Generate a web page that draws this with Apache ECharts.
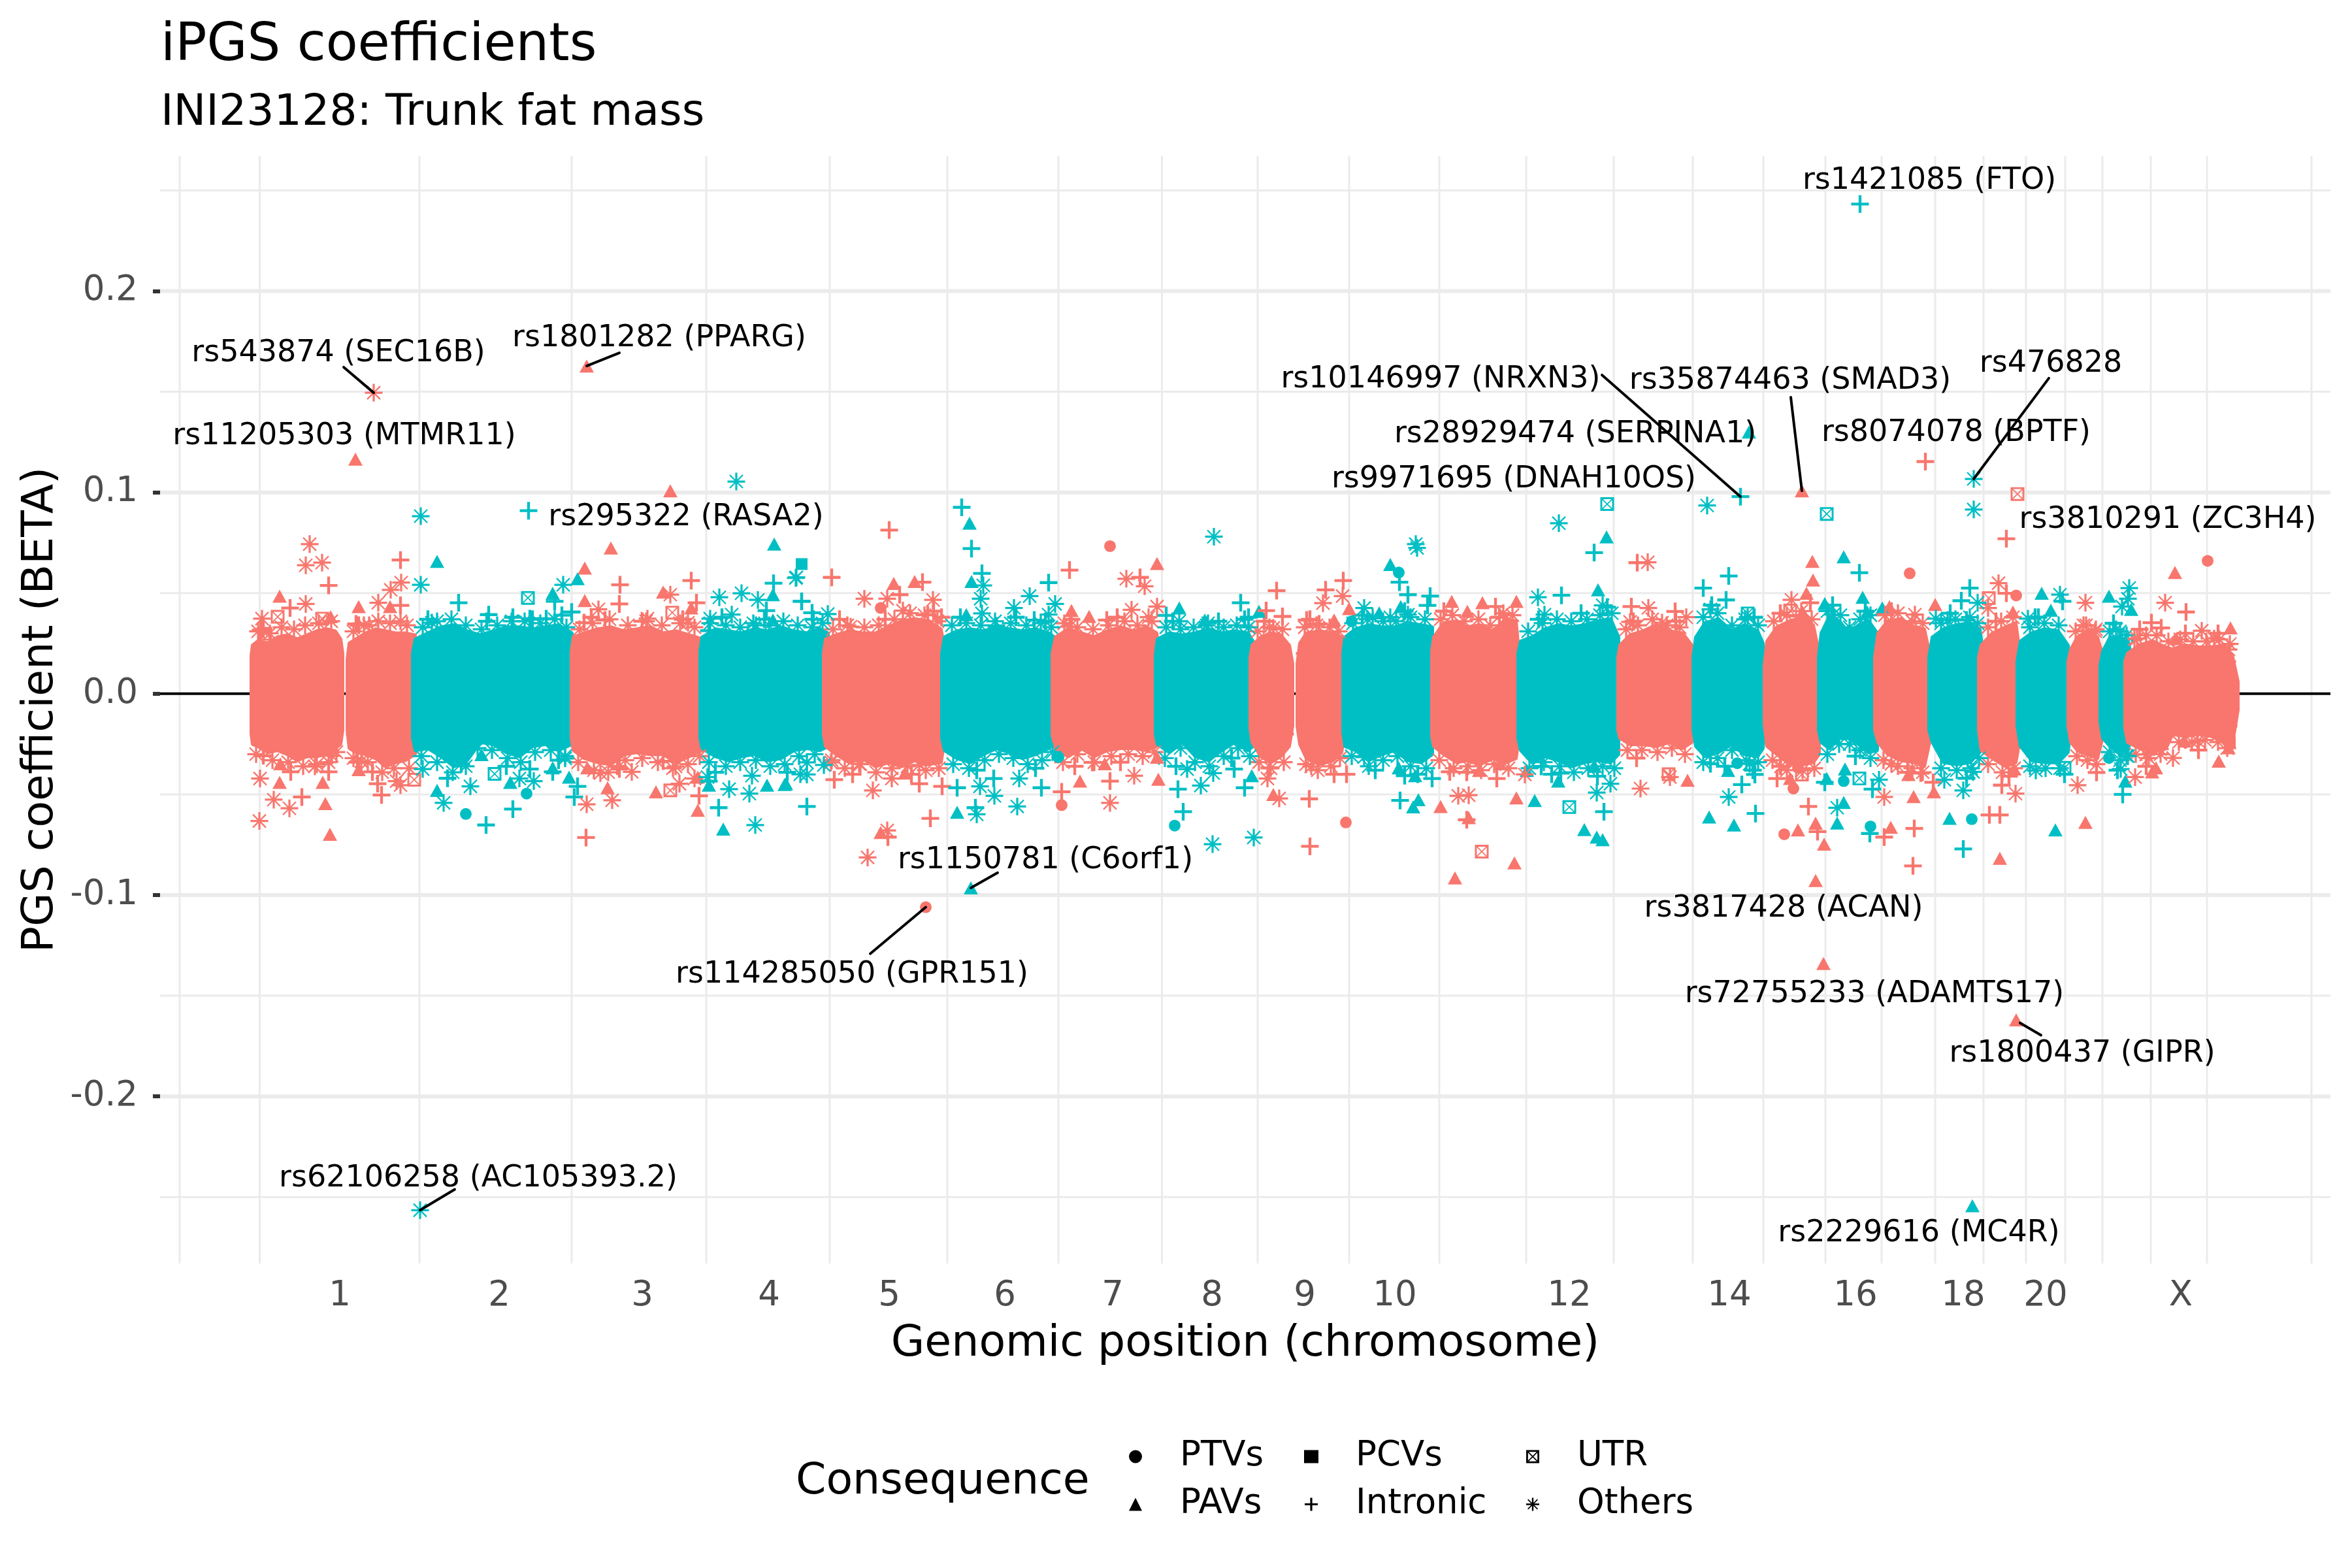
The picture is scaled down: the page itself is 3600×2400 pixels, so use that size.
<!DOCTYPE html>
<html><head><meta charset="utf-8">
<style>html,body{margin:0;padding:0;background:#fff}#c{width:3600px;height:2400px}</style>
<script src="https://cdn.jsdelivr.net/npm/echarts@6/dist/echarts.min.js"></script>
</head><body><div id="c"></div>
<script>
const chromBreaks=[30,152.5,397,630,836,1025,1205,1375,1533.5,1680,1820,1958,2091,2225,2346,2454,2549,2635,2717,2791,2856,2916,2973,3047,3133,3293];
const chromCenters=[275,519,738,932,1116,1293,1458,1610,1752,1890,2157,2402,2595,2760,2886,3093];
const chromLabels=['1','2','3','4','5','6','7','8','9','10','12','14','16','18','20','X'];
const yTicks=[-0.2,-0.1,0,0.1,0.2];
const majorY=[-0.2,-0.1,0.1,0.2];
const minorY=[-0.25,-0.15,-0.05,0.05,0.15,0.25];

// dense cloud outline per chromosome arm: [position, upper edge, lower edge]
const chr1a=[[140,.019,-.020],[142,.024,-.025],[150,.026,-.026],[165,.025,-.029],[180,.028,-.028],[195,.029,-.030],[210,.027,-.033],[225,.029,-.031],[240,.031,-.031],[255,.032,-.030],[268,.031,-.027],[276,.027,-.025],[279,.020,-.018]];
const chr1b=[[287,.017,-.018],[290,.025,-.027],[300,.027,-.029],[315,.030,-.030],[330,.032,-.032],[345,.031,-.036],[360,.030,-.034],[375,.030,-.033],[390,.029,-.030]];
const chr2=[[387,.020,-.022],[391,.027,-.028],[410,.030,-.027],[430,.033,-.031],[450,.034,-.036],[470,.031,-.033],[490,.029,-.024],[510,.031,-.025],[530,.033,-.029],[550,.033,-.031],[570,.032,-.026],[590,.033,-.025],[610,.034,-.028],[630,.030,-.025],[633,.022,-.021]];
const chr3=[[630,.021,-.022],[633,.028,-.028],[650,.030,-.032],[670,.032,-.034],[690,.033,-.035],[710,.031,-.030],[730,.032,-.029],[750,.033,-.030],[770,.030,-.030],[790,.031,-.034],[810,.029,-.031],[830,.027,-.028]];
const chr4=[[827,.021,-.022],[830,.028,-.027],[850,.032,-.031],[870,.031,-.033],[890,.030,-.031],[910,.032,-.030],[930,.031,-.033],[950,.033,-.032],[970,.031,-.028],[990,.030,-.027],[1010,.032,-.028],[1022,.030,-.026]];
const chr5=[[1016,.020,-.020],[1019,.027,-.026],[1035,.029,-.030],[1055,.031,-.034],[1075,.030,-.032],[1095,.030,-.036],[1115,.033,-.034],[1135,.036,-.036],[1155,.037,-.033],[1175,.036,-.035],[1195,.032,-.034],[1200,.022,-.024]];
const chr6=[[1197,.020,-.022],[1201,.028,-.028],[1220,.031,-.032],[1240,.032,-.034],[1260,.031,-.030],[1280,.033,-.027],[1300,.032,-.029],[1320,.031,-.032],[1340,.032,-.030],[1360,.030,-.027],[1373,.027,-.024]];
const chr7=[[1366,.020,-.020],[1371,.028,-.028],[1390,.032,-.031],[1410,.030,-.027],[1430,.028,-.031],[1450,.031,-.028],[1470,.033,-.027],[1490,.031,-.027],[1510,.033,-.028],[1525,.030,-.026],[1529,.021,-.020]];
const chr8=[[1524,.019,-.020],[1527,.027,-.025],[1545,.030,-.029],[1565,.029,-.024],[1585,.030,-.031],[1605,.032,-.033],[1625,.030,-.028],[1645,.031,-.024],[1665,.030,-.028],[1676,.024,-.025]];
const chr9a=[[1669,.018,-.017],[1672,.024,-.024],[1685,.028,-.031],[1700,.030,-.034],[1715,.029,-.031],[1728,.024,-.026],[1733,.015,-.016]];
const chr9b=[[1741,.015,-.016],[1745,.025,-.025],[1755,.030,-.032],[1775,.031,-.035],[1795,.030,-.033],[1808,.028,-.029],[1813,.020,-.020]];
const chr10=[[1811,.020,-.019],[1814,.028,-.026],[1830,.032,-.028],[1850,.034,-.033],[1870,.033,-.030],[1890,.033,-.028],[1910,.035,-.033],[1930,.034,-.034],[1947,.033,-.030]];
const chr11=[[1947,.021,-.021],[1950,.028,-.026],[1965,.035,-.030],[1985,.036,-.034],[2000,.033,-.033],[2020,.034,-.035],[2040,.031,-.032],[2060,.037,-.034],[2075,.036,-.032],[2079,.022,-.023]];
const chr12=[[2079,.020,-.022],[2083,.026,-.028],[2100,.028,-.034],[2120,.032,-.031],[2140,.034,-.033],[2160,.033,-.036],[2180,.034,-.034],[2200,.036,-.033],[2220,.037,-.034],[2232,.028,-.030]];
const chr13=[[2232,.018,-.018],[2235,.024,-.022],[2250,.029,-.025],[2270,.031,-.025],[2290,.034,-.026],[2310,.031,-.024],[2330,.030,-.027],[2344,.024,-.024],[2347,.018,-.019]];
const chr14=[[2347,.018,-.018],[2351,.028,-.026],[2365,.035,-.031],[2385,.037,-.029],[2405,.031,-.025],[2425,.034,-.030],[2445,.031,-.031],[2453,.025,-.027],[2456,.014,-.016]];
const chr15=[[2456,.014,-.015],[2460,.026,-.026],[2475,.033,-.030],[2495,.036,-.035],[2515,.038,-.035],[2530,.034,-.034],[2539,.020,-.030]];
const chr16=[[2539,.018,-.018],[2543,.030,-.024],[2555,.038,-.027],[2570,.036,-.022],[2585,.030,-.022],[2600,.034,-.025],[2615,.036,-.029],[2628,.030,-.028]];
const chr17=[[2625,.018,-.018],[2630,.030,-.024],[2645,.036,-.030],[2665,.037,-.033],[2685,.033,-.034],[2700,.032,-.036],[2708,.020,-.024]];
const chr18=[[2708,.018,-.018],[2713,.028,-.024],[2730,.032,-.034],[2750,.034,-.035],[2770,.035,-.034],[2785,.032,-.029],[2790,.020,-.020]];
const chr19=[[2784,.018,-.018],[2788,.024,-.028],[2805,.030,-.032],[2825,.033,-.036],[2840,.035,-.034],[2845,.023,-.025]];
const chr20=[[2843,.016,-.016],[2848,.026,-.026],[2865,.030,-.033],[2885,.032,-.034],[2905,.031,-.034],[2920,.024,-.029],[2924,.016,-.016]];
const chr21=[[2921,.016,-.016],[2925,.022,-.024],[2935,.028,-.028],[2950,.031,-.030],[2965,.028,-.032],[2974,.018,-.020]];
const chr22=[[2970,.014,-.014],[2974,.021,-.022],[2985,.028,-.026],[3000,.028,-.030],[3012,.026,-.028],[3017,.018,-.020]];
const chrX=[[3008,.016,-.017],[3012,.020,-.024],[3030,.024,-.027],[3050,.026,-.029],[3070,.023,-.027],[3080,.022,-.020],[3100,.024,-.021],[3120,.023,-.020],[3140,.023,-.021],[3160,.024,-.024],[3172,.018,-.024],[3180,.006,-.008]];
const cloudOutlines=[chr1a,chr1b,chr2,chr3,chr4,chr5,chr6,chr7,chr8,chr9a,chr9b,chr10,chr11,chr12,chr13,chr14,chr15,chr16,chr17,chr18,chr19,chr20,chr21,chr22,chrX];
const cloudChrom=[1,1,2,3,4,5,6,7,8,9,9,10,11,12,13,14,15,16,17,18,19,20,21,22,23];

// read-off variants [position, BETA]
const salmonTri=[[183,.0485],[690,.0724],[650,.0624],[781,.1008],[770,.0505],[304,.0433],[352,.0433],[261,.0382],[650,.0463],[813,.0426],[653,.1628],[299,.1165],
[184,-.0348],[183,-.044],[249,-.044],[253,-.0546],[260,-.0698],[304,-.0377],[685,-.0467],[759,-.0487],[823,-.0579],[654,-.0368],[823,-.0414],
[1123,.0548],[1155,.0558],[1526,.0647],[1395,.0413],[1422,.0384],[1820,.0423],[1797,.0366],[1103,-.0689],[1140,-.0394],[1408,-.0434],[1528,-.0425],[1704,-.05],[1446,-.0348],[1526,-.0315],
[1977,.0459],[2024,.0452],[2001,.0409],[2076,.0459],[2529,.0657],[2530,.0565],[2520,.0499],[2513,.1008],[2514,.0406],[2647,.0433],[2717,.0443],[2836,.0406],
[1960,-.056],[2003,-.0615],[2076,-.0517],[2073,-.084],[2019,-.0381],[2051,-.0348],[2338,-.043],[2495,-.0421],[2684,-.0511],[2676,-.0401],[2715,-.0487],[2507,-.0676],[2534,-.0643],[2547,-.0747],[2649,-.0663],[2838,-.0374],[1982,-.0915],[2947,-.0639],[2816,-.0817],[2534,-.0928],[2546,-.134],[2841,-.162],
[3084,.0602],[3169,.0327],[3086,.0274],[3049,-.0388],[3055,-.0368],[3099,-.0235],[3151,-.0335],[3166,-.0268]];
const salmonStar=[[229,.0743],[223,.0638],[248,.0651],[223,.0446],[369,.0552],[353,.0516],[334,.0452],[156,.0373],[320,.034],[368,.036],[671,.0419],[781,.0492],[746,.0373],[808,.0353],[327,.1495],
[153,-.0421],[174,-.0526],[198,-.0569],[152,-.0632],[237,-.0361],[308,-.0335],[362,-.0434],[368,-.0454],[653,-.0549],[692,-.0529],[674,-.0394],[722,-.0388],[789,-.0361],[795,-.0447],[818,-.0421],[263,-.0308],
[1078,.0472],[1113,.0472],[1183,.0466],[1479,.0571],[1507,.0534],[1487,.0417],[1526,.0433],[1513,.038],[1810,.0485],[1780,.045],[1137,.0413],[1057,.0333],[1392,.0333],[1704,.0327],
[1027,-.0341],[1091,-.048],[1113,-.0679],[1120,-.0421],[1454,-.0542],[1491,-.0407],[1713,-.052],[1695,-.0421],[1762,-.0361],[1083,-.0813],[1070,-.0348],[1162,-.0354],
[2277,.0653],[2278,.0426],[2250,.0357],[2336,.038],[2497,.0466],[2686,.0393],[2814,.0549],[2798,.0426],[2947,.0452],[2944,.034],[2299,.0353],
[1987,-.0507],[2003,-.0504],[2266,-.0471],[2311,-.0414],[2639,-.0513],[2935,-.0454],[2840,-.0496],[2481,-.0361],[2089,-.0401],[2650,-.0348],
[2963,.032],[3069,.0452],[3125,.0313],[3168,.0247],[3144,.0274],[3081,-.0319],[3040,-.0302],[3023,-.0414],[3119,-.0235],[3061,-.0275],[3026,.0274]];
const salmonPlus=[[368,.0664],[258,.0538],[199,.0426],[300,.0347],[368,.0439],[704,.0541],[703,.0446],[813,.0562],[821,.0452],[649,.0353],[681,.0366],[154,.0316],
[158,-.0308],[200,-.0388],[217,-.0513],[258,-.0388],[333,-.0447],[339,-.0503],[325,-.0388],[652,-.0714],[825,-.0507],[703,-.0374],[770,-.0335],
[1116,.0813],[1028,.0578],[1167,.0554],[1132,.0492],[1175,.0393],[1196,.038],[1392,.0614],[1500,.0578],[1449,.0366],[1709,.0512],[1784,.0516],[1811,.0562],[1693,.0413],[1718,.0384],[1755,.0366],[1774,.0347],
[1032,-.0427],[1179,-.0619],[1162,-.0447],[1197,-.046],[1380,-.0487],[1114,-.0712],[1454,-.0434],[1427,-.0341],[1759,-.0522],[1760,-.0758],[1797,-.04],[1816,-.04],[1698,-.0368],
[2044,.0433],[2252,.0433],[2319,.0409],[2526,.0452],[2702,.1153],[2826,.077],[2826,.0499],[2261,.0651],[2641,.0393],
[2000,-.0626],[2046,-.0421],[1974,-.0388],[2523,-.056],[2537,-.0685],[2639,-.0712],[2685,-.0669],[2683,-.0855],[2714,-.044],[2475,-.0421],[2695,-.0394],[2819,-.0454],[2800,-.0602],[2816,-.0602],
[3101,.0406],[3048,.0353],[3063,.0327],[2964,-.0391]];
const salmonCircle=[[1103,.0426],[1454,.0733],[1380,-.0553],[1815,-.0639],[1172,-.106],[2678,.0598],[2841,.0488],[2500,-.0471],[2486,-.0698],[2507,-.0368],[3134,.066]];
const salmonSquare=[[3168,-.0242]];
const salmonUtr=[[180,.0382],[248,.0373],[161,.0298],[784,.0403],[389,-.0427],[781,-.048],[2495,.0413],[2799,.0475],[2843,.0992],[2023,-.0784],[2513,-.0401],[2309,-.04]];
const tealStar=[[399,.0882],[399,.0541],[617,.0541],[882,.1054],[856,.0479],[890,.0499],[915,.0466],[875,.0393],[973,.0575],[842,.0373],[912,.034],[416,.0353],[398,-.2565],
[402,-.0374],[475,-.046],[434,-.0542],[572,-.0434],[550,-.0421],[838,-.0414],[871,-.0474],[902,-.0496],[911,-.0652],[906,-.0407],[620,-.0321],[980,-.04],
[974,.0578],[1022,.0396],[1260,.0538],[1256,.0472],[1258,.0399],[1331,.0485],[1307,.0426],[1370,.0446],[1360,.0393],[1613,.078],[1922,.0743],[1924,.0724],[1560,.036],[1843,.0426],[1856,.038],[1883,.038],[1910,.0393],[1602,.034],
[990,-.0401],[990,-.0341],[1016,-.0354],[1312,-.056],[1277,-.0507],[1250,-.0599],[1255,-.046],[1315,-.0421],[1593,-.0456],[1611,-.0747],[1674,-.0714],[1572,-.0374],[1612,-.0394],[1843,-.0315],
[2141,.0847],[2368,.0935],[2776,.1067],[2776,.0915],[2109,.0479],[2119,.0393],[2208,.0439],[2373,.0419],[2561,.0393],[2718,.0373],[2736,.0366],[2782,.0452],[2908,.0492],[2859,.0373],[2430,.038],
[2401,-.0513],[2199,-.0491],[2220,-.0447],[2567,-.0566],[2731,-.0427],[2760,-.048],[2775,-.0388],[2631,-.0427],[2433,-.0348],[2871,-.0381],
[3014,.0525],[3012,.0472],[3003,.0433],[2994,.032],[3001,-.0374],[3010,-.0308]];
const tealPlus=[[564,.0909],[457,.0452],[503,.0393],[540,.038],[630,.0406],[604,.0459],[566,.0373],[591,.0373],[939,.0549],[928,.0413],[982,.0459],[840,.0313],
[540,-.0573],[499,-.0652],[634,-.0513],[639,-.046],[855,-.0566],[601,-.0388],[990,-.056],[461,-.0348],[840,-.0434],[566,-.0374],
[1227,.0926],[1242,.0721],[1258,.0598],[1360,.0552],[982,.0459],[998,.0402],[1540,.0389],[1654,.0452],[1897,.0554],[1910,.0492],[1944,.0485],[1940,.0439],[1666,.038],[1338,.0366],[1280,.0337],
[1248,-.0566],[1220,-.0467],[1349,-.0467],[1276,-.0421],[1558,-.0474],[1566,-.0586],[1660,-.0467],[1644,-.0374],[1898,-.053],[1905,-.0407],[1947,-.0421],
[2195,.0701],[2419,.0979],[2401,.0585],[2362,.0525],[2397,.0466],[2601,.0601],[2770,.0525],[2757,.0462],[2145,.0489],[2870,.038],[2912,.0459],[2765,.0366],[2602,.2432],
[2210,-.0586],[2442,-.0595],[2421,-.0451],[2441,-.0401],[2373,-.0348],[2621,-.0474],[2617,-.0694],[2760,-.0771],[2548,-.044],[2144,-.0394],[2114,-.0361],[3004,-.05]];
const tealTri=[[424,.0657],[639,.0571],[601,.0499],[940,.0743],[938,.0492],[938,.0366],
[536,-.044],[626,-.0414],[601,-.0368],[424,-.048],[862,-.0672],[840,-.0454],[929,-.0454],[956,-.0451],[492,-.0302],
[1239,.0847],[1242,.0558],[1234,.0393],[1560,.0426],[1682,.0409],[1883,.0642],[1899,.0433],[1599,.0366],[1866,.0402],
[1220,-.0589],[1671,-.0407],[1926,-.0526],[1918,-.0562],[1921,-.0407],[1896,-.0368],[958,-.0447],[1241,-.0964],
[2214,.0779],[2577,.068],[2606,.0479],[2548,.0448],[2880,.0499],[2894,.0415],[2201,.0516],[2613,.0406],[2636,.0426],[2432,.13],
[2104,-.053],[2180,-.0675],[2199,-.0712],[2208,-.0725],[2371,-.0612],[2409,-.0652],[2400,-.0381],[2577,-.054],[2567,-.0642],[2739,-.0619],[2901,-.0676],[2092,-.0381],[2140,-.0434],[2579,-.0374],[2551,-.0421],[2196,-.0361],[2774,-.2543],
[2983,.0485],[3017,.0419],[3008,-.0434]];
const tealCircle=[[468,-.0597],[561,-.0496],[1896,.0602],[1824,.036],[1553,-.0655],[1375,-.0315],[2414,-.0345],[2577,-.0434],[2618,-.0659],[2773,-.0623],[2983,-.0319]];
const tealSquare=[[982,.0644]];
const tealUtr=[[563,.0476],[512,-.0398],[2215,.0942],[2551,.0893],[2157,-.0563],[2601,-.0421],[2430,.0399],[2915,-.0368]];

// markers estimated along the rim of the dense clouds
const salmonRimStar=[[150,.031],[168,.030],[186,.033],[205,.032],[222,.034],[243,.035],[262,.036],[147,-.030],[172,-.033],[196,-.034],[219,-.036],[240,-.035],[258,-.034],[270,-.029],
[296,.031],[312,.034],[334,.036],[352,.035],[378,.034],[296,-.032],[318,-.034],[340,-.039],[358,-.037],[381,-.037],
[642,.032],[662,.035],[688,.037],[716,.034],[744,.036],[768,.034],[796,.035],[818,.033],[640,-.034],[664,-.038],[686,-.039],[712,-.033],[738,-.032],[762,-.034],[785,-.037],[808,-.035],[826,-.031],
[1030,.032],[1052,.034],[1078,.033],[1100,.034],[1124,.037],[1148,.040],[1170,.039],[1190,.036],[1028,-.033],[1048,-.037],[1072,-.035],[1096,-.039],[1120,-.037],[1144,-.036],[1172,-.038],[1192,-.037],
[1384,.035],[1404,.033],[1428,.032],[1452,.034],[1476,.036],[1496,.034],[1518,.036],[1382,-.034],[1404,-.030],[1430,-.034],[1456,-.031],[1482,-.030],[1504,-.031],[1522,-.029],
[1680,.031],[1698,.033],[1718,.032],[1682,-.034],[1700,-.037],[1720,-.034],[1752,.033],[1770,.034],[1790,.033],[1804,.031],[1754,-.035],[1772,-.038],[1792,-.036],[1806,-.032],
[1960,.037],[1978,.039],[1996,.036],[2018,.037],[2036,.034],[2056,.040],[2070,.039],[1958,-.033],[1980,-.037],[2002,-.036],[2022,-.038],[2042,-.035],[2064,-.037],
[2244,.032],[2262,.034],[2284,.037],[2306,.034],[2326,.033],[2246,-.028],[2268,-.028],[2292,-.029],[2314,-.027],[2334,-.030],
[2470,.036],[2490,.039],[2512,.041],[2528,.037],[2468,-.033],[2490,-.038],[2514,-.038],[2532,-.037],
[2640,.039],[2660,.040],[2682,.036],[2698,.035],[2638,-.033],[2660,-.036],[2682,-.037],[2698,-.039],
[2798,.033],[2818,.036],[2836,.038],[2798,-.035],[2820,-.039],[2838,-.037],[2932,.031],[2948,.034],[2962,.031],[2934,-.031],[2950,-.033],[2964,-.035],
[3022,.027],[3040,.029],[3056,.029],[3074,.026],[3092,.027],[3112,.026],[3132,.026],[3152,.027],[3166,.022],[3024,-.030],[3044,-.032],[3062,-.030],[3090,-.024],[3110,-.024],[3130,-.023],[3150,-.024],[3164,-.027]];
const tealRimStar=[[402,.033],[424,.036],[446,.037],[468,.034],[492,.032],[516,.034],[538,.036],[558,.036],[582,.035],[604,.037],[622,.033],[400,-.031],[424,-.034],[448,-.039],[468,-.036],[486,-.027],[508,-.028],[532,-.032],[552,-.034],[574,-.029],[598,-.028],[620,-.031],
[842,.035],[866,.034],[888,.033],[908,.035],[932,.034],[954,.036],[976,.034],[998,.033],[1014,.035],[840,-.034],[866,-.036],[888,-.034],[912,-.033],[934,-.036],[956,-.035],[978,-.031],[1002,-.030],
[1212,.034],[1234,.035],[1256,.034],[1278,.036],[1302,.035],[1326,.034],[1348,.035],[1364,.033],[1214,-.035],[1238,-.037],[1262,-.033],[1284,-.030],[1306,-.032],[1328,-.035],[1350,-.033],[1366,-.029],
[1540,.033],[1562,.032],[1582,.033],[1604,.035],[1628,.033],[1648,.034],[1666,.033],[1538,-.032],[1562,-.027],[1584,-.034],[1606,-.036],[1628,-.031],[1650,-.027],[1668,-.031],
[1826,.035],[1848,.037],[1872,.036],[1892,.036],[1914,.038],[1936,.037],[1824,-.031],[1850,-.036],[1872,-.033],[1894,-.031],[1914,-.036],[1938,-.037],
[2094,.031],[2116,.035],[2138,.037],[2160,.036],[2184,.037],[2204,.039],[2222,.040],[2096,-.037],[2118,-.034],[2142,-.036],[2164,-.039],[2186,-.037],[2208,-.036],[2226,-.037],
[2362,.038],[2384,.040],[2406,.034],[2426,.037],[2446,.034],[2362,-.034],[2384,-.032],[2406,-.028],[2428,-.033],[2446,-.034],
[2552,.041],[2572,.039],[2586,.033],[2602,.037],[2618,.039],[2552,-.030],[2570,-.025],[2586,-.025],[2602,-.028],[2618,-.032],
[2726,.035],[2748,.037],[2770,.038],[2782,.035],[2726,-.037],[2750,-.038],[2772,-.037],[2784,-.032],
[2862,.033],[2884,.035],[2906,.034],[2862,-.036],[2886,-.037],[2908,-.037],[2984,.031],[3000,.031],[3010,.029],[2984,-.029],[3000,-.033],[3012,-.031]];
const salmonRimPlus=[[152,.020],[151,.006],[153,-.012],[152,-.022],[158,.032],[268,.018],[267,.004],[268,-.010],[267,-.020],[298,.016],[299,-.004],[298,-.020],[304,.034],[302,-.034],[660,.038],[738,.036],[800,.037],[700,-.036],[1040,.037],[1110,.037],[1184,.041],[1060,-.040],[1150,-.040],[1395,.037],[1465,.038],[1400,-.036],[1470,-.034],[1722,.012],[1721,-.008],[1722,-.020],[1752,.020],[1753,.002],[1752,-.014],[1690,.036],[1760,.037],[1965,.041],[2050,.038],[2000,-.039],[2255,.036],[2320,.036],[2260,-.032],[2480,.040],[2480,-.036],[2650,.041],[2675,-.039],[2810,.036],[2830,-.041],[3168,.006],[3167,-.006],[3166,-.016],[3164,.016],[3030,.032],[3100,.030],[3150,.030],[3040,-.036],[3120,-.028]];
const tealRimPlus=[[410,.037],[500,.036],[570,.037],[615,.039],[440,-.042],[530,-.036],[610,-.033],[860,.038],[925,.037],[1000,.037],[850,-.039],[960,-.039],[1225,.038],[1310,.038],[1355,.036],[1250,-.038],[1340,-.037],[1550,.036],[1620,.036],[1660,.037],[1555,-.036],[1640,-.032],[1840,.039],[1905,.041],[1860,-.038],[1925,-.040],[2110,.037],[2175,.040],[2215,.043],[2130,-.040],[2200,-.041],[2375,.044],[2440,.038],[2395,-.036],[2438,-.038],[2560,.044],[2610,.041],[2595,-.031],[2740,.040],[2765,-.042],[2875,.038],[2915,-.040],[2990,.035],[2996,-.038]];

// repelled annotations
const noteTexts=['rs1421085 (FTO)','rs1801282 (PPARG)','rs543874 (SEC16B)','rs11205303 (MTMR11)','rs295322 (RASA2)','rs10146997 (NRXN3)','rs35874463 (SMAD3)','rs476828','rs28929474 (SERPINA1)','rs8074078 (BPTF)','rs9971695 (DNAH10OS)','rs3810291 (ZC3H4)','rs1150781 (C6orf1)','rs114285050 (GPR151)','rs3817428 (ACAN)','rs72755233 (ADAMTS17)','rs1800437 (GIPR)','rs62106258 (AC105393.2)','rs2229616 (MC4R)'];
const noteX=[2708,764,273,282,805,1960,2495,2894,2166,2749,2072,3073,1355,1059,2485,2624,2942,487,2692];
const noteY=[.2559,.1777,.1703,.1291,.0889,.1573,.1567,.1651,.1301,.1307,.1077,.0876,-.0814,-.1382,-.1054,-.1479,-.1777,-.2394,-.2669];
const connectors=[[703,.1693,653,.1628],[281,.1622,327,.1495],[2207,.1583,2419,.0979],[2496,.1473,2513,.1008],[2891,.1567,2776,.1067],[1282,-.0889,1241,-.0964],[1087,-.1291,1172,-.106],[2879,-.1696,2847,-.1635],[451,-.2462,398,-.2565]];

const SALMON='#F8766D',TEAL='#00BFC4',FONT='DejaVu Sans';
const xMin=0,xMax=3322,yMin=-0.283,yMax=0.267;
const PLUS='path://M4.2 0H5.8V4.2H10V5.8H5.8V10H4.2V5.8H0V4.2H4.2Z';
const STAR='path://M4.4 0H5.6V10H4.4ZM0 4.4H10V5.6H0ZM1 1.6L1.6 1L9 8.4L8.4 9ZM8.4 1L9 1.6L1.6 9L1 8.4Z';
const UTR='path://M0 0H10V1.4H0ZM8.6 0H10V10H8.6ZM0 8.6H10V10H0ZM0 0H1.4V10H0ZM1 1.6L1.6 1L9 8.4L8.4 9ZM8.4 1L9 1.6L1.6 9L1 8.4Z';
const TRI='path://M5 0L10 10H0Z';

const gridSegs=[];
chromBreaks.forEach(x=>gridSegs.push([x,yMin,x,yMax,3]));
minorY.forEach(y=>gridSegs.push([xMin,y,xMax,y,3]));
majorY.forEach(y=>gridSegs.push([xMin,y,xMax,y,6]));

function pts(name,data,color,symbol,size,z){
  return {type:'scatter',name,data,symbol,symbolSize:size,silent:true,z:z||4,
    itemStyle:{color,opacity:1},emphasis:{disabled:true}};
}
const series=[
 {type:'custom',name:'grid',silent:true,z:1,data:gridSegs,encode:{x:0,y:1},
  renderItem:(p,api)=>{const a=api.coord([api.value(0),api.value(1)]),b=api.coord([api.value(2),api.value(3)]);
   return {type:'line',shape:{x1:a[0],y1:a[1],x2:b[0],y2:b[1]},style:{stroke:'#EBEBEB',lineWidth:api.value(4)}};}},
 {type:'line',name:'zero',silent:true,z:2,data:[[xMin,0],[xMax,0]],symbol:'none',lineStyle:{color:'#000',width:4}},
 pts('Others',salmonRimStar,SALMON,STAR,27,3),pts('Others',tealRimStar,TEAL,STAR,27,3),
 pts('Intronic',salmonRimPlus,SALMON,PLUS,27,3),pts('Intronic',tealRimPlus,TEAL,PLUS,27,3),
 {type:'custom',name:'cloud',silent:true,z:3,data:cloudOutlines.map((o,i)=>[i]),encode:{x:-1,y:-1},
  renderItem:(p,api)=>{const i=api.value(0),o=cloudOutlines[i],c=cloudChrom[i]%2?SALMON:TEAL;
   const top=o.map(s=>api.coord([s[0],s[1]])),bot=o.slice().reverse().map(s=>api.coord([s[0],s[2]]));
   return {type:'polygon',shape:{points:top.concat(bot)},style:{fill:c,stroke:c,lineWidth:6,lineJoin:'round'}};}},
 pts('PTVs',salmonCircle,SALMON,'circle',18),pts('PTVs',tealCircle,TEAL,'circle',18),
 pts('PCVs',salmonSquare,SALMON,'rect',18),pts('PCVs',tealSquare,TEAL,'rect',18),
 pts('UTR',salmonUtr,SALMON,UTR,21),pts('UTR',tealUtr,TEAL,UTR,21),
 pts('PAVs',salmonTri,SALMON,TRI,[22,20]),pts('PAVs',tealTri,TEAL,TRI,[22,20]),
 pts('Intronic',salmonPlus,SALMON,PLUS,27),pts('Intronic',tealPlus,TEAL,PLUS,27),
 pts('Others',salmonStar,SALMON,STAR,27),pts('Others',tealStar,TEAL,STAR,27),
 {type:'custom',name:'connectors',silent:true,z:5,data:connectors,encode:{x:0,y:1},
  renderItem:(p,api)=>{const a=api.coord([api.value(0),api.value(1)]),b=api.coord([api.value(2),api.value(3)]);
   return {type:'line',shape:{x1:a[0],y1:a[1],x2:b[0],y2:b[1]},style:{stroke:'#000',lineWidth:4,lineCap:'round'}};}},
 {type:'custom',name:'notes',silent:true,z:6,data:noteX.map((x,i)=>[x,noteY[i],i]),encode:{x:0,y:1},
  renderItem:(p,api)=>{const a=api.coord([api.value(0),api.value(1)]);
   return {type:'text',x:a[0],y:a[1]+4,style:{text:noteTexts[api.value(2)],font:'46px "DejaVu Sans"',fill:'#000',align:'center',verticalAlign:'middle'}};}}
];
const legendText={color:'#000',fontFamily:FONT,fontSize:53,padding:[0,0,0,52]};
function col(left,items){
 return {show:true,orient:'vertical',left,top:2198,itemGap:20,itemWidth:22,itemHeight:20,selectedMode:false,
  textStyle:legendText,data:items.map(([name,icon])=>({name,icon,itemStyle:{color:'#000',opacity:1}}))};
}
const chart=echarts.init(document.getElementById('c'),null,{renderer:'canvas'});
chart.setOption({
 animation:false,backgroundColor:'#fff',
 title:[
  {text:'iPGS coefficients',left:241,top:26,textStyle:{fontFamily:FONT,fontWeight:'normal',fontSize:80,color:'#000'}},
  {text:'INI23128: Trunk fat mass',left:241,top:135,textStyle:{fontFamily:FONT,fontWeight:'normal',fontSize:66.5,color:'#000'}},
  {text:'Consequence',left:1213,top:2230,textStyle:{fontFamily:FONT,fontWeight:'normal',fontSize:66.5,color:'#000'}}
 ],
 legend:[col(1723,[['PTVs','circle'],['PAVs',TRI]]),col(1991,[['PCVs','rect'],['Intronic',PLUS]]),col(2331,[['UTR',UTR],['Others',STAR]])],
 grid:{left:245,top:239,width:3322,height:1695,containLabel:false,outerBoundsMode:'none'},
 xAxis:{type:'value',min:xMin,max:xMax,name:'Genomic position (chromosome)',nameLocation:'middle',nameGap:90,
  nameTextStyle:{fontFamily:FONT,fontSize:66.5,color:'#000'},
  axisLine:{show:false},axisTick:{show:false},splitLine:{show:false},
  axisLabel:{customValues:chromCenters,formatter:v=>chromLabels[chromCenters.indexOf(v)],fontFamily:FONT,fontSize:53,color:'#4D4D4D',margin:24}},
 yAxis:{type:'value',min:yMin,max:yMax,name:'PGS coefficient (BETA)',nameLocation:'middle',nameGap:143,
  nameTextStyle:{fontFamily:FONT,fontSize:66.5,color:'#000'},
  axisLine:{show:false},splitLine:{show:false},
  axisTick:{show:true,customValues:yTicks,length:11,lineStyle:{color:'#333',width:6}},
  axisLabel:{customValues:yTicks,formatter:v=>String(Math.abs(v)<1e-9?'0.0':v.toFixed(1)),fontFamily:FONT,fontSize:53,color:'#4D4D4D',margin:34}},
 series
});
</script></body></html>
